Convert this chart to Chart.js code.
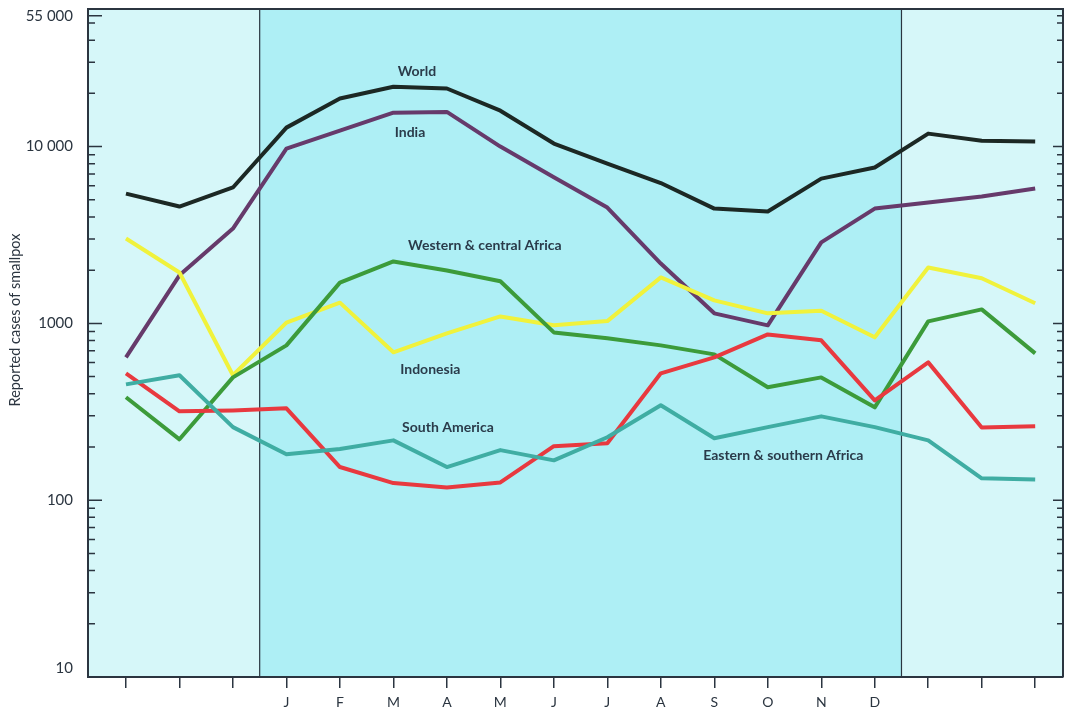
<!DOCTYPE html>
<html>
<head>
<meta charset="utf-8">
<script src="https://cdn.jsdelivr.net/npm/chart.js@4.4.0/dist/chart.umd.min.js"></script>
<style>
  html, body { margin: 0; padding: 0; background: #fff; }
</style>
</head>
<body>
<canvas id="smallpoxChart" width="1070" height="718"></canvas>
<script>
// 18 monthly positions: 3 before the year, J..D, 3 after
const months = ['', '', '', 'J', 'F', 'M', 'A', 'M', 'J', 'J', 'A', 'S', 'O', 'N', 'D', '', '', ''];

const world = [5420, 4580, 5870, 12800, 18700, 21800, 21300, 15960, 10400, 8020, 6220, 4460, 4290, 6590, 7610, 11840, 10800, 10700];
const india = [643, 1870, 3440, 9750, 12300, 15560, 15700, 10000, 6700, 4520, 2180, 1140, 975, 2870, 4460, 4830, 5220, 5790];
const indonesia = [3020, 1940, 509, 1010, 1310, 686, 878, 1095, 975, 1030, 1820, 1350, 1140, 1180, 834, 2070, 1800, 1300];
const westCentralAfrica = [382, 221, 495, 751, 1700, 2240, 1990, 1730, 889, 823, 751, 668, 435, 495, 335, 1026, 1200, 677];
const eastSouthAfrica = [522, 318, 322, 331, 154, 125, 118, 126, 202, 210, 522, 643, 866, 802, 367, 602, 258, 262];
const southAmerica = [452, 509, 259, 182, 195, 218, 154, 192, 168, 227, 344, 224, 259, 298, 259, 218, 133, 131];

const yTickValues = [10, 100, 1000, 10000, 55000];
const yTickLabels = ['10', '100', '1000', '10 000', '55 000'];

// series name labels: [text, x index, value]
const seriesLabels = [
    ['World', 5.44, 26500],
    ['India', 5.31, 12000],
    ['Western & central Africa', 6.71, 2760],
    ['Indonesia', 5.69, 550],
    ['South America', 6.02, 258],
    ['Eastern & southern Africa', 12.29, 180]
];

const ink = '#2b3540';
const toPoints = (arr) => arr.map((v, i) => ({x: i, y: v}));

const chartBackdrop = {
    id: 'chartBackdrop',
    beforeDraw: (chart) => {
        const ctx = chart.ctx;
        const a = chart.chartArea;
        const x = chart.scales.x;
        ctx.save();
        ctx.fillStyle = '#d6f7f9';
        ctx.fillRect(a.left, a.top, a.right - a.left, a.bottom - a.top);
        const x0 = x.getPixelForValue(2.5);
        const x1 = x.getPixelForValue(14.5);
        ctx.fillStyle = '#aeeff5';
        ctx.fillRect(x0, a.top, x1 - x0, a.bottom - a.top);
        ctx.strokeStyle = ink;
        ctx.lineWidth = 1.2;
        ctx.beginPath();
        ctx.moveTo(x0, a.top); ctx.lineTo(x0, a.bottom);
        ctx.moveTo(x1, a.top); ctx.lineTo(x1, a.bottom);
        ctx.stroke();
        ctx.restore();
    },
    afterDatasetsDraw: (chart) => {
        const ctx = chart.ctx;
        const a = chart.chartArea;
        const x = chart.scales.x;
        const y = chart.scales.y;
        ctx.save();
        // frame
        ctx.strokeStyle = ink;
        ctx.lineWidth = 2;
        ctx.beginPath();
        ctx.moveTo(a.left, a.bottom); ctx.lineTo(a.left, a.top);
        ctx.lineTo(a.right, a.top); ctx.lineTo(a.right, a.bottom);
        ctx.stroke();

        // inside ticks, left and right
        ctx.lineWidth = 1.5;
        ctx.beginPath();
        for (let d = 10; d < 60000; d *= 10) {
            for (let m = 1; m < 10; m++) {
                const v = d * m;
                if (v > 55000) break;
                const py = y.getPixelForValue(v);
                const len = m === 1 ? 14 : 7;
                ctx.moveTo(a.left, py); ctx.lineTo(a.left + len, py);
                ctx.moveTo(a.right, py); ctx.lineTo(a.right - (m === 1 ? 10 : 6), py);
            }
        }
        const py55 = y.getPixelForValue(55000);
        ctx.moveTo(a.left, py55); ctx.lineTo(a.left + 14, py55);
        ctx.moveTo(a.right, py55); ctx.lineTo(a.right - 6, py55);
        ctx.stroke();

        // y tick labels
        ctx.fillStyle = ink;
        ctx.font = '15px Lato';
        ctx.textAlign = 'right';
        ctx.textBaseline = 'middle';
        yTickValues.forEach((v, i) => {
            let py = y.getPixelForValue(v);
            if (v === 10) py -= 9;
            ctx.fillText(yTickLabels[i], a.left - 15, py);
        });

        // axis title
        ctx.save();
        ctx.translate(15, 320);
        ctx.rotate(-Math.PI / 2);
        ctx.textAlign = 'center';
        ctx.font = '14.5px Lato';
        ctx.fillText('Reported cases of smallpox', 0, 0);
        ctx.restore();

        // series names
        ctx.font = 'bold 14px Lato';
        ctx.fillStyle = '#2a3b4a';
        ctx.textAlign = 'center';
        seriesLabels.forEach(([t, xi, v]) => {
            ctx.fillText(t, x.getPixelForValue(xi), y.getPixelForValue(v));
        });
        ctx.restore();
    }
};

const dataSmallpox = {
    datasets: [
        {label: 'South America', data: toPoints(southAmerica), borderColor: '#3fada3'},
        {label: 'Eastern & southern Africa', data: toPoints(eastSouthAfrica), borderColor: '#e8393f'},
        {label: 'Western & central Africa', data: toPoints(westCentralAfrica), borderColor: '#3c9b3a'},
        {label: 'Indonesia', data: toPoints(indonesia), borderColor: '#f0f23c'},
        {label: 'India', data: toPoints(india), borderColor: '#663a6b'},
        {label: 'World', data: toPoints(world), borderColor: '#1c2824'}
    ]
};

const configSmallpox = {
    type: 'line',
    data: dataSmallpox,
    plugins: [chartBackdrop],
    options: {
        responsive: false,
        animation: false,
        devicePixelRatio: 1,
        layout: {padding: {top: 9, right: 7, left: 0, bottom: 0}},
        plugins: {legend: {display: false}, tooltip: {enabled: false}},
        elements: {
            point: {radius: 0},
            line: {borderWidth: 4, tension: 0, borderJoinStyle: 'round', fill: false}
        },
        scales: {
            x: {
                type: 'linear',
                min: -0.71,
                max: 17.52,
                afterBuildTicks: (s) => { s.ticks = months.map((m, i) => ({value: i})); },
                afterFit: (s) => { s.height = 41; },
                ticks: {
                    autoSkip: false, maxRotation: 0, padding: 6,
                    color: ink, font: {family: 'Lato', size: 14},
                    callback: (v) => months[v]
                },
                grid: {drawOnChartArea: false, drawTicks: true, tickLength: 11, color: ink, lineWidth: 1.5},
                border: {display: true, color: ink, width: 2}
            },
            y: {
                type: 'logarithmic',
                min: 10,
                max: 60000,
                afterFit: (s) => { s.width = 88; },
                ticks: {display: false},
                grid: {display: false},
                border: {display: false}
            }
        }
    }
};

new Chart(
    document.getElementById('smallpoxChart'),
    configSmallpox
);
</script>
</body>
</html>
